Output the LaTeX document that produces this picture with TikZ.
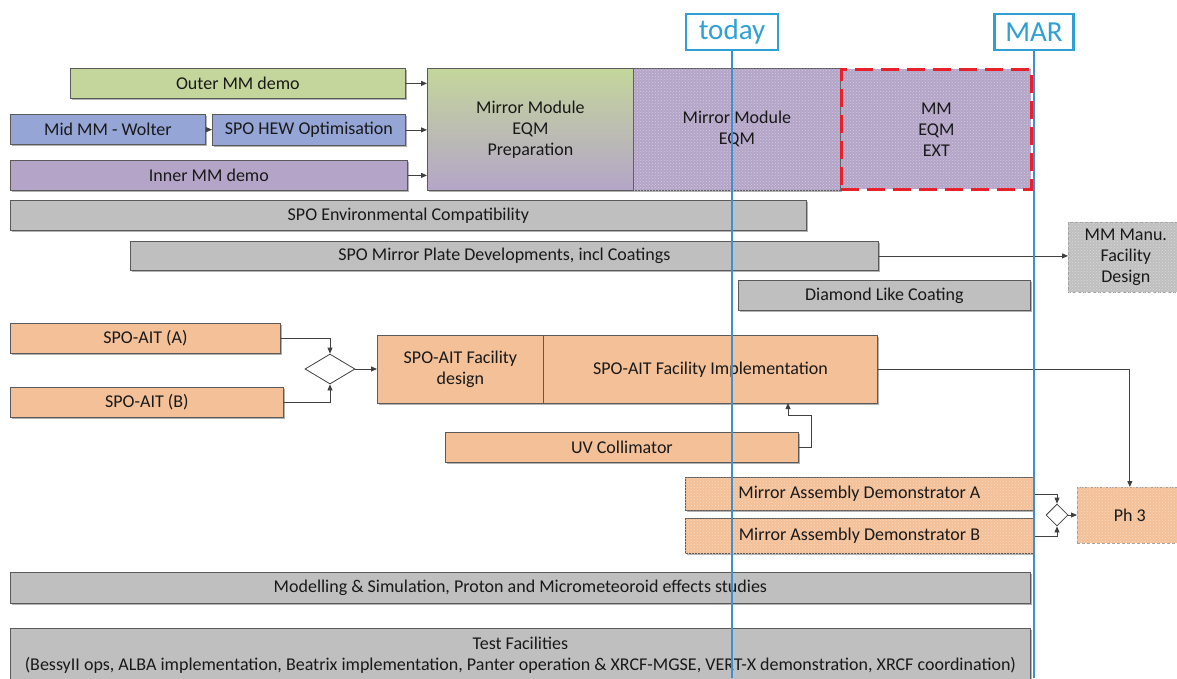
\documentclass[tikz,border=0pt]{standalone}
\usepackage{fontspec}
\setmainfont{Carlito}
\usetikzlibrary{arrows.meta,shapes.geometric,patterns,shadows}
\definecolor{mmgreen}{HTML}{C4D69B}
\definecolor{mmblue}{HTML}{95A5D6}
\definecolor{mmpurple}{HTML}{B4A5C8}
\definecolor{gbar}{HTML}{BFBFBF}
\definecolor{ait}{HTML}{F3C098}
\definecolor{boxline}{HTML}{5A5A5A}
\definecolor{flowgray}{HTML}{404040}
\definecolor{mmred}{HTML}{E8202A}
\definecolor{tlblue}{HTML}{2FA0D4}
\definecolor{tlline}{HTML}{3E8FD0}
\tikzset{
  box/.style={draw=boxline, line width=0.8pt, text=black!90, inner sep=0pt, anchor=north west, font=\fontsize{18}{21}\selectfont},
  task/.style={box, drop shadow={shadow xshift=1.5pt, shadow yshift=-1.5pt, opacity=0.3, fill=black}},
  ghost/.style={box, draw=gray!75, densely dashed, line width=0.7pt},
  speckle/.style={fill=#1, postaction={pattern=crosshatch dots, pattern color=white!40!#1}},
  barfont/.style={font=\fontsize{18}{21}\selectfont},
  gate/.style={diamond, draw=flowgray, fill=white, line width=0.8pt, inner sep=0pt},
  flow/.style={-{Triangle[length=6pt,width=5pt]}, draw=flowgray, line width=0.8pt},
  marker/.style={draw=tlblue, line width=2.5pt, fill=white, text=tlblue, font=\fontsize{29}{32}\selectfont, minimum height=36pt, inner sep=0pt},
  tline/.style={draw=tlline, line width=2.5pt}
}

\begin{document}
\begin{tikzpicture}[x=1pt, y=-1pt]
\useasboundingbox (0,0) rectangle (1177,678);
\coordinate (floor) at (0,678);
% mirror module line
\node[task, fill=mmgreen, minimum width=335pt, minimum height=30pt] (outer) at (70,68) {Outer MM demo};
\node[task, fill=mmblue, minimum width=195pt, minimum height=30pt] (mid) at (10,114) {Mid MM - Wolter};
\node[task, fill=mmblue, minimum width=193pt, minimum height=31pt] (hew) at (212,114) {SPO HEW Optimisation};
\node[task, fill=mmpurple, minimum width=397pt, minimum height=30pt] (inner) at (10,160) {Inner MM demo};
\node[task, top color=mmgreen, bottom color=mmpurple, minimum width=206pt, minimum height=122pt, align=center] (prep) at (427,68) {Mirror Module\\EQM\\Preparation};
\node[task, speckle=mmpurple, minimum width=207pt, minimum height=122pt, align=center] (eqm) at (633,68) {Mirror Module\\EQM};
\node[box, speckle=mmpurple, draw=none, postaction={draw=mmred, line width=3pt, dash pattern=on 18pt off 8pt}, minimum width=190pt, minimum height=120pt, align=center] (ext) at (841,69) {MM\\EQM\\EXT};
\draw[flow] (outer.east) -- (outer.east -| prep.west);
\draw[flow] (mid) -- (hew);
\draw[flow] (hew.east) -- (hew.east -| prep.west);
\draw[flow] (inner.east) -- (inner.east -| prep.west);
% plates and coatings
\node[task, fill=gbar, barfont, minimum width=796pt, minimum height=30pt] (env) at (10,200) {SPO Environmental Compatibility};
\node[task, fill=gbar, barfont, minimum width=748pt, minimum height=29pt] (plate) at (130,241) {SPO Mirror Plate Developments, incl Coatings};
\node[ghost, speckle=gbar, minimum width=115pt, minimum height=70pt, align=center] (manu) at (1068,222) {MM Manu.\\Facility\\Design};
\node[task, fill=gbar, barfont, minimum width=292pt, minimum height=30pt] (dlc) at (738,280) {Diamond Like Coating};
\draw[flow] (plate.east) -- (plate.east -| manu.west);
% assembly and integration
\node[task, fill=ait, minimum width=270pt, minimum height=30pt] (aitA) at (10,323) {SPO-AIT (A)};
\node[task, fill=ait, minimum width=273pt, minimum height=30pt] (aitB) at (10,387) {SPO-AIT (B)};
\node[gate, minimum width=50pt, minimum height=30pt] (gateAIT) at (330,369) {};
\node[task, fill=ait, minimum width=166pt, minimum height=68pt, align=center] (design) at (377,335) {SPO-AIT Facility\\design};
\node[task, fill=ait, minimum width=334pt, minimum height=68pt] (impl) at (543,335) {SPO-AIT Facility Implementation};
\node[task, fill=ait, minimum width=353pt, minimum height=30pt] (uv) at (445,432) {UV Collimator};
\coordinate (uvin) at (788,403);
\draw[flow] (aitA.east) -| (gateAIT.north);
\draw[flow] (aitB.east) -| (gateAIT.south);
\draw[flow] (gateAIT.east) -- (gateAIT.east -| design.west);
\draw[flow] (uv.east) -- ++(13,0) |- ([yshift=-12pt]uvin) -- (uvin);
% demonstrators
\node[task, speckle=ait, minimum width=348pt, minimum height=33pt] (demoA) at (685,477) {Mirror Assembly Demonstrator A};
\node[task, speckle=ait, minimum width=348pt, minimum height=35pt] (demoB) at (685,518) {Mirror Assembly Demonstrator B};
\node[gate, minimum width=22pt, minimum height=22pt] (gatePh) at (1057,515) {};
\node[ghost, speckle=ait, minimum width=105pt, minimum height=56pt] (ph3) at (1077,487) {Ph 3};
\draw[flow] (demoA.east) -| (gatePh.north);
\draw[flow] (demoB.east) -| (gatePh.south);
\draw[flow] (gatePh.east) -- (gatePh.east -| ph3.west);
\draw[flow] (impl.east) -| (ph3.north);
% studies and test facilities
\node[task, fill=gbar, barfont, minimum width=1020pt, minimum height=31pt] (model) at (10,572) {Modelling \& Simulation, Proton and Micrometeoroid effects studies};
\node[task, fill=gbar, barfont, minimum width=1020pt, minimum height=54pt, align=center] (test) at (10,628) {Test Facilities\\(BessyII ops, ALBA implementation, Beatrix implementation, Panter operation \& XRCF-MGSE, VERT-X demonstration, XRCF coordination)};
% milestones
\node[marker, minimum width=92pt] (today) at (732,32) {today};
\node[marker, minimum width=79pt] (mar) at (1034,32) {MAR};
\draw[tline] (today.south) -- (today.south |- floor);
\draw[tline] (mar.south) -- (mar.south |- floor);
\end{tikzpicture}
\end{document}
